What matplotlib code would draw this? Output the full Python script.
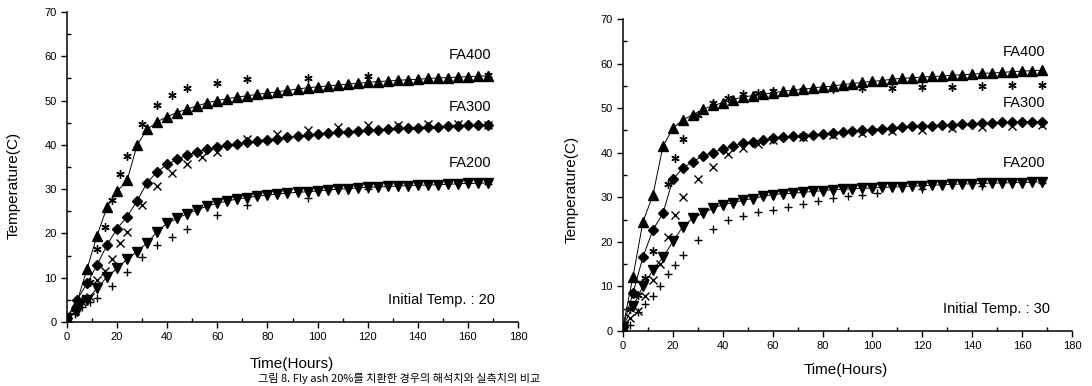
"""Adiabatic temperature rise: simulated vs measured, fly-ash mixes FA200/300/400."""

import matplotlib
matplotlib.use("Agg")
import matplotlib.pyplot as plt
from matplotlib.ticker import MultipleLocator

plt.rcParams["font.family"] = ["Liberation Sans", "DejaVu Sans"]

# simulated curves, one point every 4 hours
SIM_T = [0, 4, 8, 12, 16, 20, 24, 28, 32, 36, 40, 44, 48, 52, 56, 60, 64, 68, 72,
         76, 80, 84, 88, 92, 96, 100, 104, 108, 112, 116, 120, 124, 128, 132,
         136, 140, 144, 148, 152, 156, 160, 164, 168]

L_SIM_FA400 = [1, 4.5, 12, 19.5, 26, 29.5, 32, 40, 43.5, 45.2, 46.4, 47.3, 48.1, 48.8,
               49.5, 50.0, 50.4, 50.8, 51.1, 51.4, 51.7, 52.0, 52.3, 52.6, 52.9, 53.1,
               53.3, 53.5, 53.7, 53.9, 54.1, 54.3, 54.4, 54.6, 54.7, 54.8, 55.0, 55.1,
               55.2, 55.3, 55.4, 55.5, 55.6]
L_SIM_FA300 = [1, 5, 8.7, 12.9, 17.4, 21.1, 23.8, 27.4, 31.5, 33.9, 35.6, 36.7, 37.7,
               38.4, 39.0, 39.6, 39.9, 40.2, 40.6, 40.9, 41.2, 41.4, 41.7, 41.9, 42.2,
               42.4, 42.6, 42.8, 43.0, 43.1, 43.3, 43.4, 43.5, 43.7, 43.8, 43.9, 44.0,
               44.1, 44.2, 44.3, 44.4, 44.4, 44.5]
L_SIM_FA200 = [1, 2.5, 5, 7.6, 10.2, 12.1, 14.2, 15.9, 17.9, 20.4, 22.3, 23.4, 24.5,
               25.3, 26.2, 26.8, 27.3, 27.8, 28.1, 28.4, 28.7, 28.9, 29.1, 29.3, 29.4,
               29.6, 29.8, 30.0, 30.1, 30.3, 30.4, 30.5, 30.6, 30.7, 30.8, 30.9, 30.9,
               31.0, 31.1, 31.2, 31.3, 31.3, 31.4]

R_SIM_FA400 = [1, 12.2, 24.5, 30.5, 41.4, 45.5, 47.4, 48.5, 49.7, 50.6, 51.2, 51.9,
               52.5, 52.8, 53.1, 53.4, 53.8, 54.0, 54.2, 54.5, 54.8, 54.9, 55.3, 55.5,
               55.8, 56.0, 56.2, 56.5, 56.7, 56.8, 57.0, 57.1, 57.2, 57.4, 57.5, 57.6,
               57.8, 57.9, 58.0, 58.2, 58.3, 58.4, 58.5]
R_SIM_FA300 = [1, 8.5, 16.6, 22.7, 26.4, 34.0, 36.6, 38.0, 39.3, 40.0, 40.8, 41.5, 42.1,
               42.5, 42.9, 43.2, 43.5, 43.7, 43.8, 44.0, 44.2, 44.4, 44.6, 44.8, 45.0,
               45.2, 45.4, 45.5, 45.7, 45.9, 46.0, 46.1, 46.2, 46.3, 46.4, 46.5, 46.6,
               46.7, 46.8, 46.8, 46.9, 46.9, 47.0]
R_SIM_FA200 = [1, 5.5, 10.0, 13.7, 16.5, 20.1, 23.4, 25.3, 26.4, 27.6, 28.3, 28.8, 29.3,
               29.7, 30.2, 30.6, 30.8, 30.9, 31.1, 31.3, 31.5, 31.7, 31.8, 31.9, 32.0,
               32.1, 32.2, 32.3, 32.4, 32.5, 32.6, 32.7, 32.8, 32.9, 33.0, 33.0, 33.1,
               33.2, 33.2, 33.3, 33.3, 33.4, 33.5]

# measured points
L_EXP_FA400_T = [0, 3, 6, 9, 12, 15, 18, 21, 24, 30, 36, 42, 48, 60, 72, 96, 120, 168]
L_EXP_FA400 = [1, 3, 5, 9, 16.5, 21.5, 27.5, 33.4, 37.5, 44.6, 49.1, 51.2, 52.9, 53.9,
               54.8, 55.0, 55.5, 55.7]
L_EXP_FA300_T = [0, 3, 6, 9, 12, 15, 18, 21, 24, 30, 36, 42, 48, 54, 60, 72, 84, 96,
                 108, 120, 132, 144, 156, 168]
L_EXP_FA300 = [1, 2.5, 4.5, 5.6, 9.5, 11.5, 14.3, 17.8, 20.4, 26.4, 30.7, 33.6, 35.6,
               37.3, 38.4, 41.4, 42.5, 43.3, 44.1, 44.5, 44.5, 44.6, 44.6, 44.5]
L_EXP_FA200_T = [0, 3, 6, 9, 12, 18, 24, 30, 36, 42, 48, 60, 72, 96, 120, 168]
L_EXP_FA200 = [1, 1.8, 3.5, 4.5, 5.5, 8.1, 11.4, 14.6, 17.4, 19.3, 21.1, 24.2, 26.4,
               27.9, 30.0, 31.2]

R_EXP_FA400_T = [0, 3, 6, 9, 12, 18, 21, 24, 30, 36, 42, 48, 54, 60, 72, 84, 96, 108,
                 120, 132, 144, 156, 168]
R_EXP_FA400 = [1, 5, 8, 12, 18.0, 33.0, 38.8, 43.1, 48.5, 51.2, 52.3, 53.2, 53.3, 53.8,
               54.0, 54.3, 54.5, 54.5, 54.8, 54.8, 54.9, 55.1, 55.3]
R_EXP_FA300_T = [0, 3, 6, 9, 12, 15, 18, 21, 24, 30, 36, 42, 48, 54, 60, 72, 84, 96,
                 108, 120, 132, 144, 156, 168]
R_EXP_FA300 = [1, 3, 4.5, 7.9, 11.5, 15, 21.2, 26.1, 30.0, 34.0, 36.9, 39.6, 41.1, 42,
               42.8, 43.5, 44.0, 44.5, 44.8, 45.2, 45.5, 45.8, 46.0, 46.2]
R_EXP_FA200_T = [0, 3, 6, 9, 12, 15, 18, 21, 24, 30, 36, 42, 48, 54, 60, 66, 72, 78,
                 84, 90, 96, 102, 120, 144, 168]
R_EXP_FA200 = [1, 1.3, 4.3, 6, 7.9, 10.1, 12.7, 14.8, 17.1, 20.4, 22.8, 24.8, 25.8,
               26.6, 27.2, 27.9, 28.5, 29.1, 29.8, 30.3, 30.6, 31.0, 31.8, 32.5, 33.2]

SERIES_LABELS = ["FA400", "FA300", "FA200"]
SIM_MARKERS = ["^", "D", "v"]
EXP_MARKERS = [(6, 2, 0), "x", "+"]


def draw_panel(ax, sims, exps, label_y, note):
    for (t, v), m in zip(exps, EXP_MARKERS):
        ax.plot(t, v, linestyle="none", marker=m, color="black", markersize=6,
                markeredgewidth=1.0, zorder=3)
    for v, m in zip(sims, SIM_MARKERS):
        ms = 5 if m == "D" else 6.5
        ax.plot(SIM_T, v, color="black", linewidth=0.7, marker=m, markersize=ms,
                markerfacecolor="black", markeredgecolor="black", zorder=2)

    for lbl, y in zip(SERIES_LABELS, label_y):
        ax.text(169.5, y, lbl, ha="right", va="center", fontsize=10.5)
    ax.text(171, 5, note, ha="right", va="center", fontsize=10.5)

    ax.set_xlim(0, 180)
    ax.set_ylim(0, 70)
    ax.xaxis.set_major_locator(MultipleLocator(20))
    ax.xaxis.set_minor_locator(MultipleLocator(10))
    ax.yaxis.set_major_locator(MultipleLocator(10))
    ax.yaxis.set_minor_locator(MultipleLocator(5))
    ax.tick_params(which="major", direction="out", length=4, width=1, labelsize=8)
    ax.tick_params(which="minor", direction="in", length=3, width=1)
    ax.spines["top"].set_visible(False)
    ax.spines["right"].set_visible(False)
    for s in ("left", "bottom"):
        ax.spines[s].set_linewidth(1.1)


def main():
    fig = plt.figure(figsize=(10.92, 3.86), dpi=100)
    W, H = 1092, 386

    ax1 = fig.add_axes([67 / W, 1 - 322 / H, (518 - 67) / W, (322 - 12) / H])
    ax2 = fig.add_axes([623 / W, 1 - 331 / H, (1072 - 623) / W, (331 - 19) / H])

    draw_panel(ax1, [L_SIM_FA400, L_SIM_FA300, L_SIM_FA200],
               [(L_EXP_FA400_T, L_EXP_FA400), (L_EXP_FA300_T, L_EXP_FA300),
                (L_EXP_FA200_T, L_EXP_FA200)],
               [60.3, 48.5, 35.9], "Initial Temp. : 20")
    draw_panel(ax2, [R_SIM_FA400, R_SIM_FA300, R_SIM_FA200],
               [(R_EXP_FA400_T, R_EXP_FA400), (R_EXP_FA300_T, R_EXP_FA300),
                (R_EXP_FA200_T, R_EXP_FA200)],
               [62.7, 51.2, 37.7], "Initial Temp. : 30")

    fig.text(292 / W, 1 - 364 / H, "Time(Hours)", ha="center", va="center", fontsize=11)
    fig.text(846 / W, 1 - 370 / H, "Time(Hours)", ha="center", va="center", fontsize=11)
    fig.text(14 / W, 1 - 185 / H, "Temperature(C)", rotation=90, ha="center",
             va="center", fontsize=11)
    fig.text(572 / W, 1 - 189 / H, "Temperature(C)", rotation=90, ha="center",
             va="center", fontsize=11)

    # figure caption, squeezed in along the bottom edge
    fig.text(258 / W, 1.5 / H, "그림 8. Fly ash 20%를 치환한 경우의 해석치와 실측치의 비교",
             ha="left", va="bottom", fontsize=8,
             family=["Noto Sans CJK KR", "DejaVu Sans"])

    fig.savefig("out.png", dpi=100)
    plt.close(fig)


if __name__ == "__main__":
    main()
